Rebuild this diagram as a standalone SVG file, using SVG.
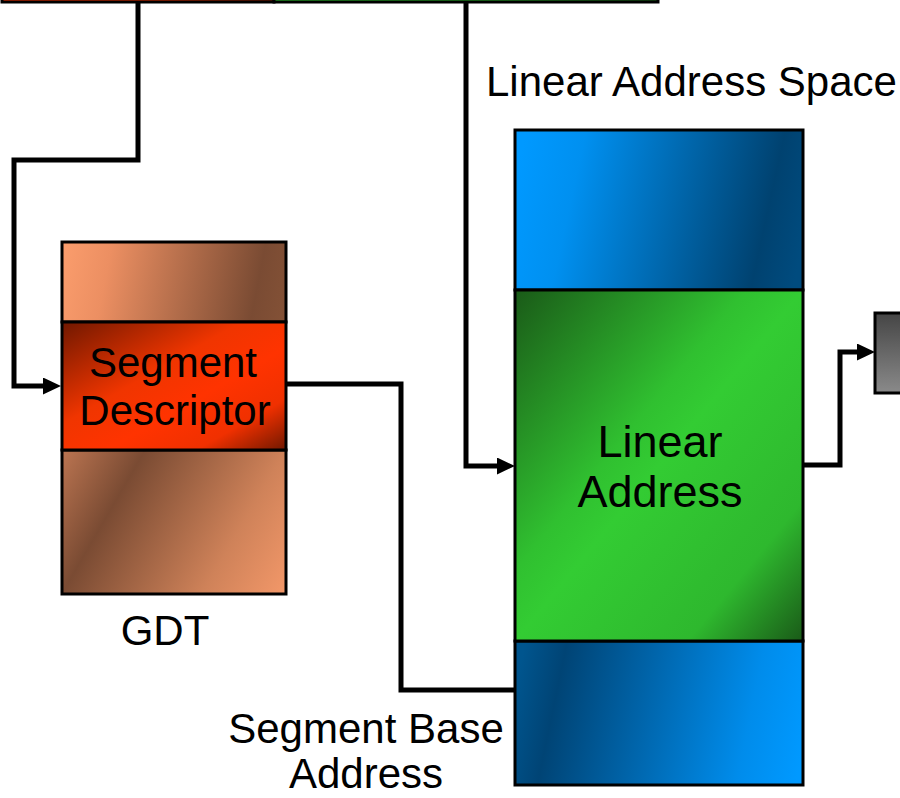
<svg xmlns="http://www.w3.org/2000/svg" width="900" height="798" viewBox="0 0 900 798">
<style>
.lbl{font-family:"Liberation Sans",Arial,sans-serif;font-size:42px;fill:#000}
.big{font-size:45px}
.conn{fill:none;stroke:#000;stroke-width:5;stroke-linejoin:miter}
.box{stroke:#000;stroke-width:3}
</style>
<defs>
<marker id="arr" markerUnits="userSpaceOnUse" markerWidth="20" markerHeight="20" refX="0" refY="8.5" orient="auto">
<path d="M0,0 L18,8.5 L0,17 Z" fill="#000"/>
</marker>
<linearGradient id="copperTop" gradientUnits="userSpaceOnUse" x1="62" y1="262" x2="286" y2="306">
<stop offset="0" stop-color="#FA9C6C"/><stop offset="0.2" stop-color="#EC8F62"/><stop offset="0.86" stop-color="#7A4B33"/><stop offset="1" stop-color="#835136"/>
</linearGradient>
<linearGradient id="copperBot" gradientUnits="userSpaceOnUse" x1="40" y1="470" x2="290" y2="615">
<stop offset="0" stop-color="#C47A55"/><stop offset="0.28" stop-color="#7A4B33"/><stop offset="0.7" stop-color="#CF8259"/><stop offset="1" stop-color="#FA9C6C"/>
</linearGradient>
<linearGradient id="redMid" x1="0" y1="0" x2="1" y2="1">
<stop offset="0" stop-color="#701800"/><stop offset="0.4" stop-color="#F03500"/><stop offset="0.6" stop-color="#FF3300"/><stop offset="0.8" stop-color="#F03000"/><stop offset="1" stop-color="#701800"/>
</linearGradient>
<linearGradient id="blueTop" gradientUnits="userSpaceOnUse" x1="515" y1="180" x2="803" y2="243">
<stop offset="0" stop-color="#0099FF"/><stop offset="0.2" stop-color="#0090F0"/><stop offset="0.86" stop-color="#004270"/><stop offset="1" stop-color="#004B7E"/>
</linearGradient>
<linearGradient id="blueBot" gradientUnits="userSpaceOnUse" x1="515" y1="690" x2="803" y2="750">
<stop offset="0" stop-color="#00558E"/><stop offset="0.14" stop-color="#004475"/><stop offset="0.8" stop-color="#008CEB"/><stop offset="1" stop-color="#0099FF"/>
</linearGradient>
<linearGradient id="green" x1="0" y1="0" x2="1" y2="1">
<stop offset="0" stop-color="#1A5A18"/><stop offset="0.4" stop-color="#30C030"/><stop offset="0.5" stop-color="#33CC33"/><stop offset="0.8" stop-color="#2EB82E"/><stop offset="1" stop-color="#1A5A18"/>
</linearGradient>
<linearGradient id="redBar" x1="0" y1="0" x2="1" y2="0">
<stop offset="0" stop-color="#FF3300"/><stop offset="0.6" stop-color="#E03000"/><stop offset="1" stop-color="#701800"/>
</linearGradient>
<linearGradient id="greenBar" x1="0" y1="0" x2="1" y2="0">
<stop offset="0" stop-color="#33CC33"/><stop offset="0.6" stop-color="#2AAA2A"/><stop offset="1" stop-color="#1A5A18"/>
</linearGradient>
<linearGradient id="gray" x1="0" y1="0" x2="0" y2="1">
<stop offset="0" stop-color="#454545"/><stop offset="1" stop-color="#8A8A8A"/>
</linearGradient>
</defs>

<g id="connectors">
<path class="conn" d="M138,0 V160 H14 V386 H43" marker-end="url(#arr)"/>
<path class="conn" d="M466,0 V466 H497" marker-end="url(#arr)"/>
<path class="conn" d="M286,384 H401 V690 H515"/>
<path class="conn" d="M803,465 H840 V352 H857" marker-end="url(#arr)"/>
</g>

<g id="selector">
<rect class="box" x="2" y="-20" width="272" height="22" fill="url(#redBar)"/>
<rect class="box" x="274" y="-20" width="384" height="22" fill="url(#greenBar)"/>
</g>

<g id="gdt">
<rect class="box" x="62" y="242" width="224" height="80" fill="url(#copperTop)"/>
<rect class="box" x="62" y="450" width="224" height="144" fill="url(#copperBot)"/>
<rect class="box" x="62" y="322" width="224" height="128" fill="url(#redMid)"/>
<text class="lbl" x="173" y="377" text-anchor="middle">Segment</text>
<text class="lbl" x="175" y="425" text-anchor="middle">Descriptor</text>
</g>
<g id="gdt-label"><text class="lbl" x="165" y="645" text-anchor="middle">GDT</text></g>

<g id="linear-space">
<rect class="box" x="515" y="130" width="288" height="160" fill="url(#blueTop)"/>
<rect class="box" x="515" y="641" width="288" height="144" fill="url(#blueBot)"/>
<rect class="box" x="515" y="290" width="288" height="351" fill="url(#green)"/>
<text class="lbl big" x="660" y="457" text-anchor="middle">Linear</text>
<text class="lbl big" x="660" y="507" text-anchor="middle">Address</text>
</g>
<g id="linear-space-label"><text class="lbl" x="486" y="96">Linear Address Space</text></g>

<g id="segbase-label">
<text class="lbl" x="366" y="743" text-anchor="middle">Segment Base</text>
<text class="lbl" x="366" y="788" text-anchor="middle">Address</text>
</g>

<g id="page">
<rect class="box" x="875" y="313" width="40" height="80" fill="url(#gray)"/>
</g>
</svg>
